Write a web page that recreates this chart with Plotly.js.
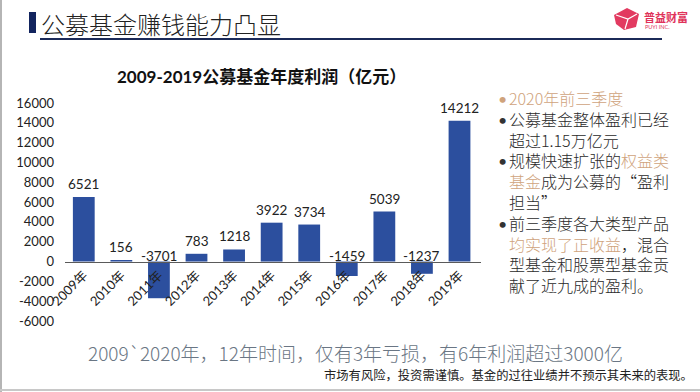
<!DOCTYPE html>
<html>
<head>
<meta charset="utf-8">
<script src="https://cdn.plot.ly/plotly-3.0.1.min.js"></script>
<style>html,body{margin:0;padding:0;background:#fff;}#chart{width:700px;height:392px;}</style>
</head>
<body>
<div id="chart"></div>
<script>
// ---- data ----
const years = ['2009年','2010年','2011年','2012年','2013年','2014年','2015年','2016年','2017年','2018年','2019年'];
const profits = [6521, 156, -3701, 783, 1218, 3922, 3734, -1459, 5039, -1237, 14212];
const yTicks = [-6000, -4000, -2000, 0, 2000, 4000, 6000, 8000, 10000, 12000, 14000, 16000];
const yTickLabels = yTicks.map(String);

const slideTitle = '公募基金赚钱能力凸显';
const chartTitle = '2009-2019公募基金年度利润（亿元）';
const logoName = '普益财富';
const logoSub = 'PUYI INC.';
const summaryText = '2009`2020年，12年时间，仅有3年亏损，有6年利润超过3000亿';
const disclaimer = '市场有风险，投资需谨慎。基金的过往业绩并不预示其未来的表现。';
const GOLD = '#cfa37c';
// side notes: [hasBullet, segments[[text, isGold]]]
const noteLines = [
  [true,  [['2020年前三季度', true]]],
  [true,  [['公募基金整体盈利已经', false]]],
  [false, [['超过1.15万亿元', false]]],
  [true,  [['规模快速扩张的', false], ['权益类', true]]],
  [false, [['基金', true], ['成为公募的“盈利', false]]],
  [false, [['担当”', false]]],
  [true,  [['前三季度各大类型产品', false]]],
  [false, [['均实现了正收益', true], ['，混合', false]]],
  [false, [['型基金和股票型基金贡', false]]],
  [false, [['献了近九成的盈利。', false]]]
];

// ---- layout geometry ----
const W = 700, H = 392;
const M = {l: 65, r: 219, t: 103, b: 71};
const pw = W - M.l - M.r, ph = H - M.t - M.b;
const fx = px => (px - M.l) / pw;
const fy = py => (H - M.b - py) / ph;
const yMin = -6000, yMax = 16000;

const CJK = '"Noto Sans CJK SC", sans-serif';
const NUM = 'Lato, "Noto Sans CJK SC", sans-serif';

const trace = {
  type: 'bar',
  x: years,
  y: profits,
  marker: {color: '#2c4f9e', line: {width: 0}},
  hoverinfo: 'x+y'
};

const annotations = [];
// value labels
profits.forEach((v, i) => {
  annotations.push({
    x: years[i], y: Math.max(v, 0), xref: 'x', yref: 'y',
    text: String(v), showarrow: false,
    xanchor: 'center', yanchor: 'middle', yshift: v >= 0 ? 13 : 6,
    font: {family: NUM, size: 13.5, color: '#222'}
  });
});
// slide header
annotations.push({xref:'paper', yref:'paper', x: fx(39), y: fy(23), xanchor:'left', yanchor:'middle',
  text: slideTitle, showarrow:false, font:{family: CJK, size: 24, color:'#222', weight: 300}});
annotations.push({xref:'paper', yref:'paper', x: fx(261), y: fy(76), xanchor:'center', yanchor:'middle',
  text: '<b>' + chartTitle + '</b>', showarrow:false, font:{family: NUM, size: 17, color:'#111'}});
annotations.push({xref:'paper', yref:'paper', x: fx(642), y: fy(17), xanchor:'left', yanchor:'middle',
  text: '<b>' + logoName + '</b>', showarrow:false, font:{family: CJK, size: 11, color:'#e0335a'}});
annotations.push({xref:'paper', yref:'paper', x: fx(643), y: fy(27), xanchor:'left', yanchor:'middle',
  text: logoSub, showarrow:false, font:{family: 'Lato, sans-serif', size: 5.5, color:'#e0335a'}});
// side notes: one block of text + one column of bullets (same line height)
const noteHtml = noteLines.map(ln => ln[1].map(s => s[1] ? '<span style="color:' + GOLD + '">' + s[0] + '</span>' : s[0]).join('')).join('<br>');
const bulletHtml = noteLines.map((ln, i) => ln[0] ? (ln[1][0][1] && ln[1].length === 1 ? '<span style="color:' + GOLD + '">•</span>' : '•') : '\u00a0').join('<br>');
const noteCenter = 191.5;
annotations.push({xref:'paper', yref:'paper', x: fx(508), y: fy(noteCenter), xanchor:'left', yanchor:'middle', align:'left',
  text: noteHtml, showarrow:false, borderpad: 0, font:{family: CJK, size: 16, color:'#2a2a2a', weight: 300}});
annotations.push({xref:'paper', yref:'paper', x: fx(497), y: fy(noteCenter), xanchor:'left', yanchor:'middle', align:'left',
  text: bulletHtml, showarrow:false, borderpad: 0, font:{family: 'Lato, sans-serif', size: 16, color:'#333'}});
// bottom texts
annotations.push({xref:'paper', yref:'paper', x: fx(355), y: fy(352), xanchor:'center', yanchor:'middle',
  text: summaryText, showarrow:false, borderpad: 0, font:{family: CJK, size: 19, color:'#6a7684', weight: 300}});
annotations.push({xref:'paper', yref:'paper', x: fx(694), y: fy(375), xanchor:'right', yanchor:'middle',
  text: disclaimer, showarrow:false, borderpad: 0, font:{family: CJK, size: 12.3, color:'#222'}});

const shapes = [
  // frame lines
  {type:'line', xref:'paper', yref:'paper', x0: fx(1), x1: fx(1), y0: fy(0), y1: fy(392), line:{color:'#b5b5b5', width:2}},
  {type:'line', xref:'paper', yref:'paper', x0: fx(0), x1: fx(700), y0: fy(390), y1: fy(390), line:{color:'#c8c8c8', width:2}},
  // header bar + underline
  {type:'rect', xref:'paper', yref:'paper', x0: fx(29), x1: fx(36), y0: fy(12), y1: fy(33), fillcolor:'#12245e', line:{width:0}},
  {type:'line', xref:'paper', yref:'paper', x0: fx(40), x1: fx(662), y0: fy(39), y1: fy(39), line:{color:'#1b2a58', width:2}},
  // logo cube
  {type:'path', xref:'paper', yref:'paper',
   path: 'M ' + fx(614) + ' ' + fy(15) + ' L ' + fx(627) + ' ' + fy(8) + ' L ' + fx(639) + ' ' + fy(14) +
         ' L ' + fx(636) + ' ' + fy(27) + ' L ' + fx(624) + ' ' + fy(30) + ' L ' + fx(616) + ' ' + fy(24) + ' Z',
   fillcolor:'#e23a60', line:{width:0}},
  {type:'path', xref:'paper', yref:'paper',
   path: 'M ' + fx(616) + ' ' + fy(15) + ' L ' + fx(628) + ' ' + fy(19) + ' L ' + fx(637) + ' ' + fy(14) +
         ' M ' + fx(628) + ' ' + fy(19) + ' L ' + fx(625) + ' ' + fy(29),
   line:{color:'#ffffff', width:1.2}}
];

const layout = {
  width: W, height: H,
  margin: {l: M.l, r: M.r, t: M.t, b: M.b, pad: 0},
  paper_bgcolor: '#ffffff', plot_bgcolor: 'rgba(0,0,0,0)',
  showlegend: false,
  bargap: 0.42,
  xaxis: {
    type: 'category', categoryorder: 'array', categoryarray: years,
    anchor: 'free', position: (0 - yMin) / (yMax - yMin),
    showline: true, linecolor: '#5a5a5a', linewidth: 1,
    showgrid: false, zeroline: false, ticks: '',
    tickangle: -45,
    tickfont: {family: NUM, size: 13, color: '#222'},
    fixedrange: true
  },
  yaxis: {
    range: [yMin, yMax],
    tickvals: yTicks, ticktext: yTickLabels,
    showgrid: false, zeroline: false, showline: false, ticks: '',
    ticklabelstandoff: 10,
    tickfont: {family: NUM, size: 13, color: '#222'},
    fixedrange: true
  },
  annotations: annotations,
  shapes: shapes
};

Plotly.newPlot('chart', [trace], layout, {displayModeBar: false, staticPlot: true});
</script>
</body>
</html>
